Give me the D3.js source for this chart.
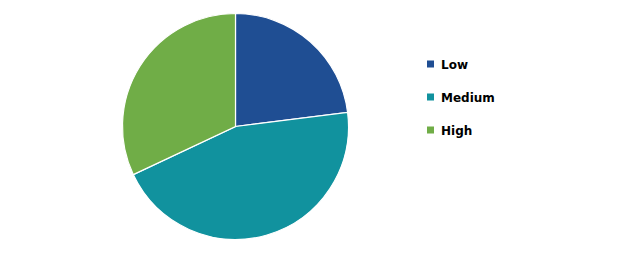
<!DOCTYPE html>
<html>
<head>
<meta charset="utf-8">
<script src="https://cdn.jsdelivr.net/npm/d3@7"></script>
<style>
  body { margin: 0; background: #fff; }
</style>
</head>
<body>
<svg id="chart" width="620" height="256"></svg>
<script>
var categories = ["Low", "Medium", "High"];
var values = [23, 45, 32];
var colors = ["#1f4e93", "#11929e", "#70ad47"];

var svg = d3.select("#chart");

var pie = d3.pie().sort(null).value(function (d) { return d.value; });
var arc = d3.arc().innerRadius(0).outerRadius(113);

var data = categories.map(function (c, i) {
  return { name: c, value: values[i], color: colors[i] };
});

svg.append("g")
  .attr("transform", "translate(235.5,126.5)")
  .selectAll("path")
  .data(pie(data))
  .join("path")
  .attr("d", arc)
  .attr("fill", function (d) { return d.data.color; })
  .attr("stroke", "#fff")
  .attr("stroke-width", 1.2);

var legend = svg.append("g")
  .selectAll("g")
  .data(data)
  .join("g")
  .attr("transform", function (d, i) { return "translate(427," + (64 + i * 33) + ")"; });

legend.append("rect")
  .attr("x", 0)
  .attr("y", -3.5)
  .attr("width", 7)
  .attr("height", 7)
  .attr("fill", function (d) { return d.color; });

legend.append("text")
  .attr("x", 14)
  .attr("y", 4.5)
  .attr("font-family", "DejaVu Sans, Verdana, sans-serif")
  .attr("font-weight", "bold")
  .attr("font-size", 12)
  .attr("fill", "#000")
  .text(function (d) { return d.name; });
</script>
</body>
</html>
